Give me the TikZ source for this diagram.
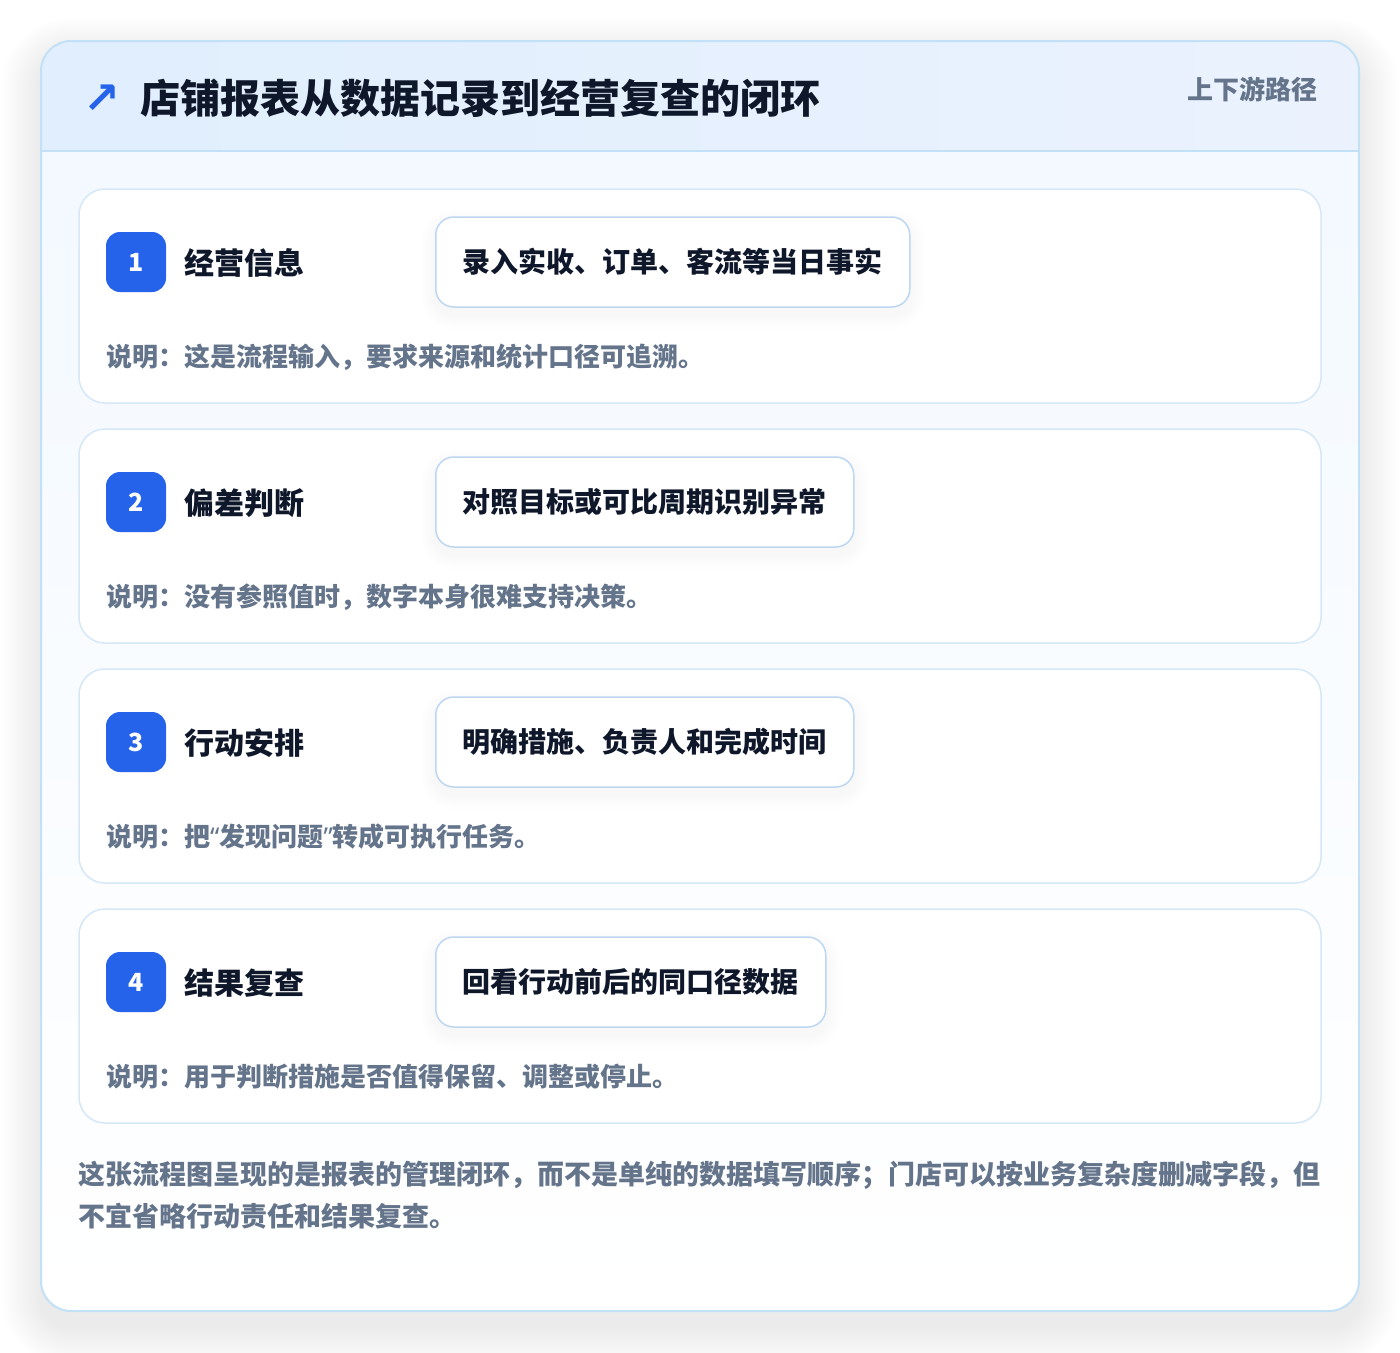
\documentclass[tikz,border=0pt]{standalone}
\usepackage{fontspec}
\setmainfont{Noto Sans CJK SC}
\newfontfamily\symfont{DejaVu Sans}
\newfontfamily\quotefont{Noto Sans}
\XeTeXlinebreaklocale "zh"
\XeTeXlinebreakskip=0pt plus 3pt
\definecolor{cardborder}{HTML}{C3E1F6}
\definecolor{headL}{HTML}{E0EEFD}
\definecolor{headR}{HTML}{EBF2FE}
\definecolor{bodytop}{HTML}{F3F9FF}
\definecolor{stepborder}{HTML}{D6E7F8}
\definecolor{boxborder}{HTML}{BDD7F3}
\definecolor{badgeblue}{HTML}{2563EB}
\definecolor{ink}{HTML}{0F172A}
\definecolor{muted}{HTML}{64748B}
\newcommand{\fs}[1]{\fontsize{#1}{1.2\dimexpr#1\relax}\selectfont\bfseries}
\newcommand{\openq}{{\quotefont\bfseries “}}
\newcommand{\closeq}{{\quotefont\bfseries ”}}
\tikzset{
  stepcard/.style={draw=stepborder, line width=1.5pt, fill=white, rounded corners=26pt},
  badgebox/.style={fill=badgeblue, text=white, rounded corners=14pt, minimum size=60pt, inner sep=0pt, font=\fs{25pt}},
  steptitle/.style={anchor=west, inner sep=0pt, text=ink, font=\fs{30pt}},
  stepbox/.style={anchor=west, draw=boxborder, line width=1.5pt, fill=white, rounded corners=18pt,
     minimum height=90pt, inner xsep=27pt, inner ysep=0pt, text=ink, font=\fs{28pt}},
  desctext/.style={anchor=west, inner sep=0pt, text=muted, font=\fs{26pt}},
  softshade/.style={fill=black, opacity=0.005},
}
\newcommand{\boxshadow}[1]{%
  \foreach \k in {2,4,...,14}{%
    \fill[softshade, rounded corners=18pt+\k pt]
      ([shift={(-\k,-\k+7)}]#1.north west) rectangle ([shift={(\k,\k+7)}]#1.south east);
  }%
}
\begin{document}
\begin{tikzpicture}[x=1pt,y=-1pt]
\useasboundingbox (0,0) rectangle (1400,1352);
% outer card shadow
\foreach \k in {2,4,...,40}{
  \fill[fill=black, opacity=0.004, rounded corners=30pt+\k pt]
    (41-\k,41-\k+16) rectangle (1359+\k,1311+\k+16);
}
\path[fill=white, rounded corners=30pt] (41,41) rectangle (1359,1311);
\begin{scope}
  \clip[rounded corners=30pt] (41,41) rectangle (1359,1311);
  \shade[top color=bodytop, bottom color=white] (41,151) rectangle (1359,1311);
  \shade[left color=headL, right color=headR] (41,41) rectangle (1359,151);
\end{scope}
\draw[cardborder, line width=1.5pt] (41,151) -- (1359,151);
\draw[cardborder, line width=2pt, rounded corners=30pt] (41,41) rectangle (1359,1311);
% header
\node[text=badgeblue, inner sep=0pt, font=\symfont\bfseries\fontsize{44pt}{50pt}\selectfont] (arrow) at (102,99) {↗};
\node[anchor=west, inner sep=0pt, text=ink, font=\fs{40pt}] (title) at (140,98) {店铺报表从数据记录到经营复查的闭环};
\node[anchor=east, inner sep=0pt, text=muted, font=\fs{26pt}] (route) at (1318,89) {上下游路径};
% step 1
\path[stepcard] (79,189) rectangle (1321,403);
\node[badgebox] (b1) at (136,262) {1};
\node[steptitle] (t1) at (184,263) {经营信息};
\path (435,262) node[stepbox, draw=none, fill=none, text opacity=0] (s1) {录入实收、订单、客流等当日事实};
\boxshadow{s1}
\node[stepbox] (x1) at (435,262) {录入实收、订单、客流等当日事实};
\node[desctext] (d1) at (106,357) {说明：这是流程输入，要求来源和统计口径可追溯。};
% step 2
\path[stepcard] (79,429) rectangle (1321,643);
\node[badgebox] (b2) at (136,502) {2};
\node[steptitle] (t2) at (184,503) {偏差判断};
\path (435,502) node[stepbox, draw=none, fill=none, text opacity=0] (s2) {对照目标或可比周期识别异常};
\boxshadow{s2}
\node[stepbox] (x2) at (435,502) {对照目标或可比周期识别异常};
\node[desctext] (d2) at (106,597) {说明：没有参照值时，数字本身很难支持决策。};
% step 3
\path[stepcard] (79,669) rectangle (1321,883);
\node[badgebox] (b3) at (136,742) {3};
\node[steptitle] (t3) at (184,743) {行动安排};
\path (435,742) node[stepbox, draw=none, fill=none, text opacity=0] (s3) {明确措施、负责人和完成时间};
\boxshadow{s3}
\node[stepbox] (x3) at (435,742) {明确措施、负责人和完成时间};
\node[desctext] (d3) at (106,837) {说明：把\openq 发现问题\closeq 转成可执行任务。};
% step 4
\path[stepcard] (79,909) rectangle (1321,1123);
\node[badgebox] (b4) at (136,982) {4};
\node[steptitle] (t4) at (184,983) {结果复查};
\path (435,982) node[stepbox, draw=none, fill=none, text opacity=0] (s4) {回看行动前后的同口径数据};
\boxshadow{s4}
\node[stepbox] (x4) at (435,982) {回看行动前后的同口径数据};
\node[desctext] (d4) at (106,1077) {说明：用于判断措施是否值得保留、调整或停止。};
% footer
\node[anchor=north west, inner sep=0pt, text width=1242pt, align=justify, text=muted,
  font=\fontsize{27pt}{42pt}\selectfont\bfseries] (foot) at (78,1161)
  {这张流程图呈现的是报表的管理闭环，而不是单纯的数据填写顺序；门店可以按业务复杂度删减字段，但\linebreak 不宜省略行动责任和结果复查。};
\end{tikzpicture}
\end{document}
